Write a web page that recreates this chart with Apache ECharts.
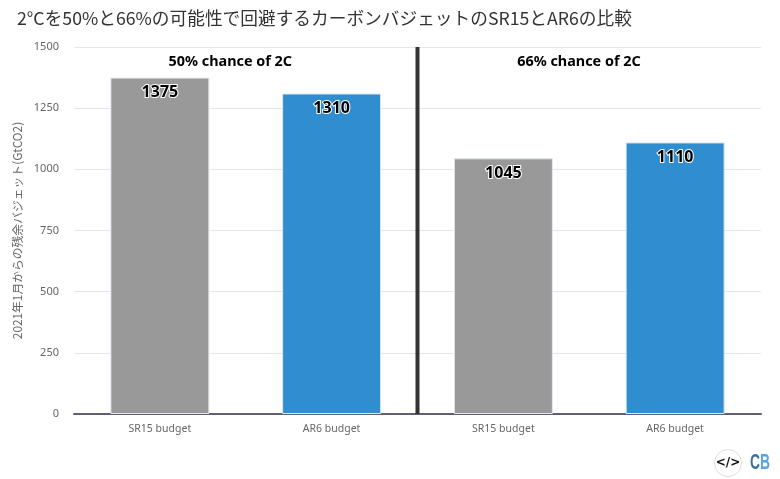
<!DOCTYPE html>
<html>
<head>
<meta charset="utf-8">
<style>
  html, body { margin: 0; padding: 0; background: #fff; }
  #chart { width: 780px; height: 479px; }
</style>
<script src="https://cdn.jsdelivr.net/npm/echarts@6/dist/echarts.min.js"></script>
</head>
<body>
<div id="chart"></div>
<script>
const titleText = '2°Cを50%と66%の可能性で回避するカーボンバジェットのSR15とAR6の比較'
const yAxisName = '2021年1月からの残余バジェット(GtCO2)'
const categories = ['SR15 budget', 'AR6 budget', 'SR15 budget', 'AR6 budget']
const budgets = [1375, 1310, 1045, 1110]
const barColors = ['#999999', '#2f8dd0', '#999999', '#2f8dd0']
const dividerPoints = [[2, 0], [2, 1500]]
const chanceNotes = [
  [0.91, 1441, '50% chance of 2C'],
  [2.94, 1441, '66% chance of 2C']
]

const latin = '"Noto Sans", "Noto Sans CJK JP", sans-serif'
const cjk = '"Noto Sans CJK JP", sans-serif'

const chart = echarts.init(document.getElementById('chart'), null, { renderer: 'canvas' })

chart.setOption({
  animation: false,
  backgroundColor: '#fff',
  title: {
    text: titleText,
    left: 12,
    top: 4,
    textStyle: { fontFamily: cjk, fontSize: 17.7, fontWeight: 'normal', color: '#333' }
  },
  grid: { left: 74, right: 19, top: 47, bottom: 65 },
  xAxis: [
    {
      type: 'category',
      data: categories,
      axisTick: { show: false },
      axisLine: { lineStyle: { color: '#5c6273', width: 2 } },
      axisLabel: { color: '#666', fontSize: 10.5, fontFamily: latin, margin: 10 }
    },
    // 分隔线和注释用的隐藏轴
    { type: 'value', min: 0, max: 4, show: false }
  ],
  yAxis: {
    type: 'value',
    min: 0,
    max: 1500,
    interval: 250,
    name: yAxisName,
    nameLocation: 'middle',
    nameGap: 38,
    nameTextStyle: { color: '#666', fontSize: 11.8, fontFamily: cjk },
    axisLine: { show: false },
    axisTick: { show: false },
    axisLabel: {
      color: '#666',
      fontSize: 11,
      fontFamily: latin,
      margin: 15,
      formatter: v => String(v)
    },
    splitLine: { lineStyle: { color: '#e6e6e6', width: 1 } }
  },
  series: [
    {
      type: 'bar',
      barWidth: 99,
      data: budgets.map((v, i) => ({ value: v, itemStyle: { color: barColors[i] } })),
      itemStyle: { borderColor: '#dfe8f2', borderWidth: 1 },
      label: {
        show: true,
        position: 'insideTop',
        distance: 7,
        color: '#000',
        fontSize: 16,
        fontWeight: 'bold',
        fontFamily: latin,
        textBorderColor: '#fff',
        textBorderWidth: 2
      }
    },
    {
      type: 'line',
      xAxisIndex: 1,
      data: dividerPoints,
      symbol: 'none',
      lineStyle: { color: '#333', width: 4 },
      z: 3
    },
    {
      type: 'scatter',
      xAxisIndex: 1,
      data: chanceNotes,
      symbolSize: 0,
      itemStyle: { opacity: 1 },
      label: {
        show: true,
        position: 'inside',
        formatter: p => p.data[2],
        color: '#000',
        fontSize: 14.4,
        fontWeight: 'bold',
        fontFamily: latin
      }
    }
  ],
  graphic: [
    {
      type: 'circle',
      shape: { cx: 728, cy: 463, r: 13.5 },
      style: { fill: '#fff', stroke: '#e2dcdc', lineWidth: 1 }
    },
    {
      type: 'text',
      x: 728,
      y: 463,
      style: {
        text: '</>',
        fill: '#111',
        font: 'bold 12px "DejaVu Sans"',
        align: 'center',
        verticalAlign: 'middle'
      }
    },
    {
      type: 'text',
      x: 750,
      y: 463,
      scaleX: 0.63,
      style: {
        rich: {
          c: { fill: '#3d6f9e', font: 'bold 22px "Liberation Sans"' },
          b: { fill: '#5ba3dc', font: 'bold 22px "Liberation Sans"' }
        },
        text: '{c|C}{b|B}',
        verticalAlign: 'middle'
      }
    }
  ]
})
</script>
</body>
</html>
